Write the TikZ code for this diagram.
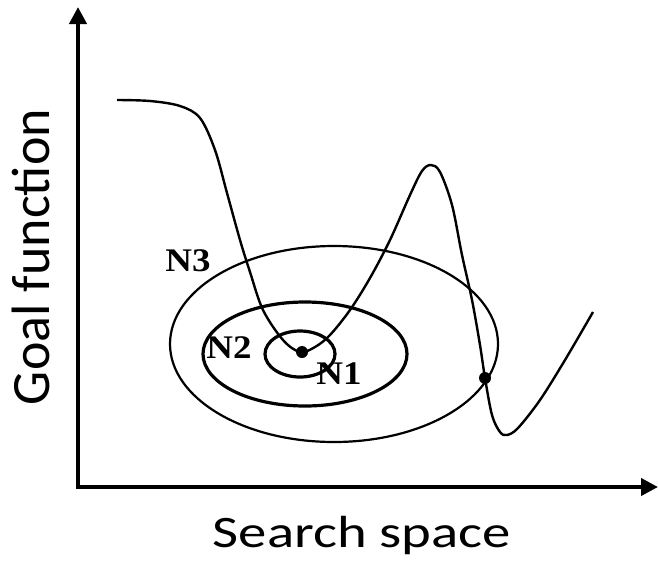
\documentclass[tikz,border=0pt]{standalone}
\usepackage{fontspec}
\setmainfont{Liberation Serif}
\newfontfamily\axisfont{Carlito}
\usetikzlibrary{arrows.meta,positioning}
\tikzset{
    every node/.style={inner sep=0pt},
    axis/.style={line width=4pt,{Triangle[length=17pt,width=17pt]}-{Triangle[length=17pt,width=17pt]}},
    axislabel/.style={font=\axisfont\fontsize{54}{58}\selectfont},
    hood/.style={draw,line width=3.2pt},
    outerhood/.style={draw,line width=2.2pt},
    hoodlabel/.style={font=\bfseries\fontsize{33}{37}\selectfont,xscale=1.12},
    goal/.style={line width=2.4pt,smooth,tension=0.55},
    spot/.style={circle,fill,minimum size=12pt}
}
\begin{document}
\begin{tikzpicture}[x=1pt,y=-1pt]
    \useasboundingbox (0,0) rectangle (658,560);
    % axes
    \coordinate (origin) at (78,487);
    \coordinate (ytip) at (78,7);
    \coordinate (xtip) at (658,487);
    \draw[axis] (ytip) |- (xtip);
    \node[axislabel,rotate=90] (ylab) at (31,257) {Goal function};
    \node[font=\axisfont\fontsize{45}{50}\selectfont,xscale=1.26,anchor=base] (xlab) at (362,547) {Search space};
    % neighbourhoods
    \draw[outerhood] (334,344) ellipse [x radius=164, y radius=98];
    \draw[hood] (305,354) ellipse [x radius=102, y radius=52];
    \draw[hood] (300,354) ellipse [x radius=35, y radius=23];
    \node[hoodlabel] (n3) at (188,261) {N3};
    \node[hoodlabel] (n2) at (229,348) {N2};
    \node[hoodlabel] (n1) at (339,374) {N1};
    % goal function
    \draw[goal] plot coordinates {(117,100) (150,101) (180,106) (200,118) (215,150)
        (227,193) (240,240) (250,272) (263,310) (283,340) (300,352) (315,347)
        (330,335) (350,310) (370,278) (390,240) (410,195) (422,171) (431,165)
        (440,172) (452,205) (462,255) (472,300) (480,345) (485,378) (492,415)
        (500,432) (507,435) (518,428) (540,400) (565,360) (593,312)};
    \node[spot] (best) at (302,352) {};
    \node[spot] (cross) at (485,378) {};
\end{tikzpicture}
\end{document}
